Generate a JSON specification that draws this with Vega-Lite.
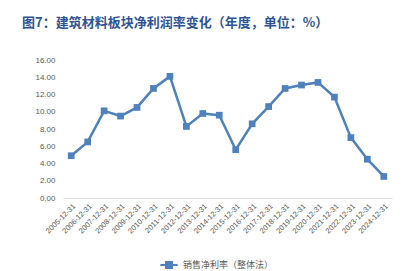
{
  "$schema": "https://vega.github.io/schema/vega-lite/v6.json",
  "width": 329,
  "height": 138,
  "autosize": {"type": "none"},
  "padding": {"left": 63, "top": 60, "right": 26, "bottom": 73},
  "background": "white",
  "title": {
    "text": "图7：建筑材料板块净利润率变化（年度，单位：%）",
    "anchor": "start",
    "frame": "group",
    "dx": -41,
    "offset": 26,
    "font": "Noto Sans CJK SC",
    "fontSize": 13,
    "fontWeight": "bold",
    "color": "#2F5496"
  },
  "config": {
    "view": {"stroke": null},
    "font": "Noto Sans CJK SC"
  },
  "data": {
    "values": [
      {"date": "2005-12-31", "value": 4.9, "series": "销售净利率（整体法）"},
      {"date": "2006-12-31", "value": 6.5, "series": "销售净利率（整体法）"},
      {"date": "2007-12-31", "value": 10.1, "series": "销售净利率（整体法）"},
      {"date": "2008-12-31", "value": 9.5, "series": "销售净利率（整体法）"},
      {"date": "2009-12-31", "value": 10.5, "series": "销售净利率（整体法）"},
      {"date": "2010-12-31", "value": 12.7, "series": "销售净利率（整体法）"},
      {"date": "2011-12-31", "value": 14.1, "series": "销售净利率（整体法）"},
      {"date": "2012-12-31", "value": 8.3, "series": "销售净利率（整体法）"},
      {"date": "2013-12-31", "value": 9.8, "series": "销售净利率（整体法）"},
      {"date": "2014-12-31", "value": 9.6, "series": "销售净利率（整体法）"},
      {"date": "2015-12-31", "value": 5.6, "series": "销售净利率（整体法）"},
      {"date": "2016-12-31", "value": 8.6, "series": "销售净利率（整体法）"},
      {"date": "2017-12-31", "value": 10.6, "series": "销售净利率（整体法）"},
      {"date": "2018-12-31", "value": 12.7, "series": "销售净利率（整体法）"},
      {"date": "2019-12-31", "value": 13.1, "series": "销售净利率（整体法）"},
      {"date": "2020-12-31", "value": 13.4, "series": "销售净利率（整体法）"},
      {"date": "2021-12-31", "value": 11.7, "series": "销售净利率（整体法）"},
      {"date": "2022-12-31", "value": 7.0, "series": "销售净利率（整体法）"},
      {"date": "2023-12-31", "value": 4.5, "series": "销售净利率（整体法）"},
      {"date": "2024-12-31", "value": 2.5, "series": "销售净利率（整体法）"}
    ]
  },
  "mark": {
    "type": "line",
    "strokeWidth": 2.5,
    "point": {"shape": "square", "size": 45, "filled": true, "opacity": 1}
  },
  "encoding": {
    "x": {
      "field": "date",
      "type": "ordinal",
      "sort": null,
      "scale": {"paddingInner": 0, "paddingOuter": 0.5},
      "axis": {
        "title": null,
        "labelAngle": -45,
        "labelFontSize": 7.5,
        "labelColor": "#595959",
        "labelFont": "Liberation Sans",
        "ticks": false,
        "domainColor": "#D9D9D9",
        "labelPadding": 4
      }
    },
    "y": {
      "field": "value",
      "type": "quantitative",
      "scale": {"domain": [0, 16], "nice": false},
      "axis": {
        "title": null,
        "values": [0, 2, 4, 6, 8, 10, 12, 14, 16],
        "format": ".2f",
        "grid": false,
        "domain": false,
        "ticks": false,
        "labelFontSize": 8,
        "labelColor": "#595959",
        "labelFont": "Liberation Sans",
        "labelPadding": 8
      }
    },
    "color": {
      "field": "series",
      "type": "nominal",
      "scale": {"range": ["#4F81BD"]},
      "legend": {
        "title": null,
        "orient": "none",
        "legendX": 96,
        "legendY": 195,
        "direction": "horizontal",
        "labelFontSize": 9,
        "labelColor": "#595959",
        "symbolType": "M-1,0H1M-0.35,-0.35H0.35V0.35H-0.35Z",
        "symbolSize": 300,
        "symbolStrokeWidth": 2,
        "symbolFillColor": "#4F81BD",
        "symbolStrokeColor": "#4F81BD"
      }
    }
  }
}
